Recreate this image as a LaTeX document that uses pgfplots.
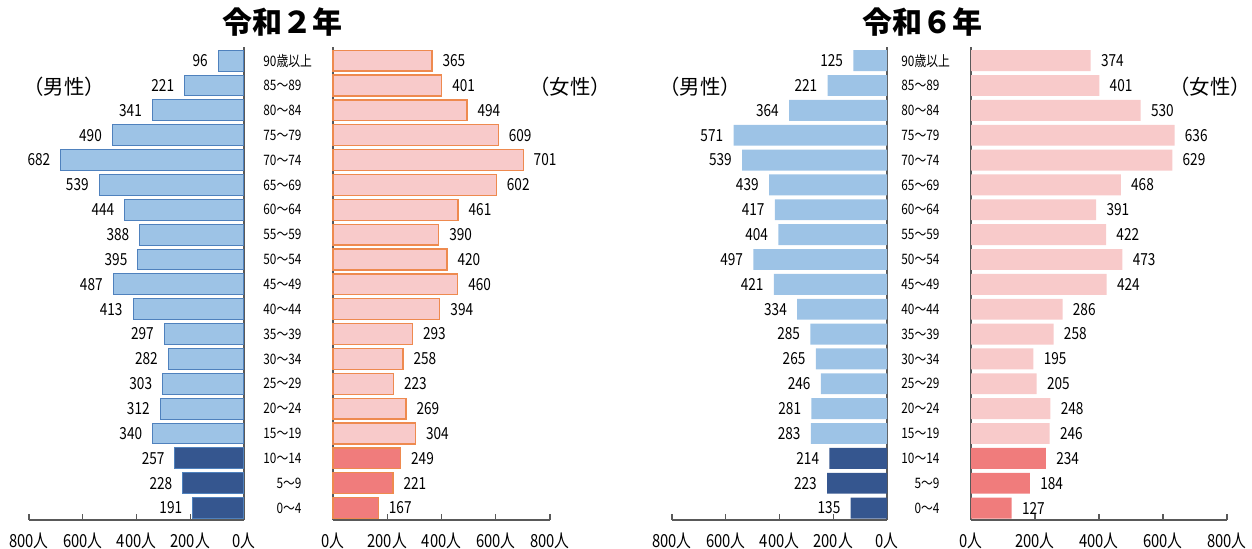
\documentclass[border=0pt]{standalone}
\usepackage{pgfplots}
\pgfplotsset{compat=1.18}
\usepackage{fontspec}
\usepackage{calc}
\setmainfont{Noto Sans CJK JP}[FakeStretch=0.82]
\newfontfamily\titlefont{Noto Sans CJK JP}

\definecolor{mlight}{HTML}{9DC3E6}
\definecolor{mlightedge}{HTML}{4F81BD}
\definecolor{mdark}{HTML}{35568F}
\definecolor{flight}{HTML}{F8CACA}
\definecolor{fedge}{HTML}{EE8A4F}
\definecolor{fdark}{HTML}{F07C7C}
\definecolor{axisgray}{HTML}{595959}

\newcommand{\catr}[1]{\makebox[\widthof{85〜89}][r]{#1}}
\newcommand{\catl}[1]{\makebox[\widthof{85〜89}][l]{#1}}

\tikzset{sidecap/.style={font=\titlefont\fontsize{10.2}{11}\selectfont, inner sep=0pt}}

\pgfplotsset{
  pyr/.style={
    scale only axis, height=236.5pt,
    xmin=0, xmax=800, ymin=-0.48, ymax=18.55,
    xbar, bar width=0.84, bar shift=0pt,
    axis x line*=bottom, axis y line*=middle,
    axis line style={-, draw=axisgray, line width=0.8pt},
    xtick={0,200,400,600,800},
    xticklabel={\pgfmathprintnumber{\tick}人},
    tick align=inside, major tick length=3pt,
    xtick style={draw=axisgray, line width=0.7pt},
    ytick=\empty,
    /pgf/number format/assume math mode=true,
    xticklabel style={font=\fontsize{9}{10}\selectfont, anchor=center, yshift=-10.2pt, inner sep=0pt},
    nodes near coords,
    nodes near coords style={font=\fontsize{8.3}{9}\selectfont, inner sep=0pt, text=black},
    clip=false,
  },
  male/.style={pyr, x dir=reverse,
    every node near coord/.append style={anchor=east, xshift=-5pt}},
  female/.style={pyr,
    every node near coord/.append style={anchor=west, xshift=5pt},
    ytick={0,...,18},
    yticklabels={\catr{0〜4},\catr{5〜9},\catr{10〜14},\catr{15〜19},\catr{20〜24},
      \catr{25〜29},\catr{30〜34},\catr{35〜39},\catr{40〜44},\catr{45〜49},
      \catr{50〜54},\catr{55〜59},\catr{60〜64},\catr{65〜69},\catr{70〜74},
      \catr{75〜79},\catr{80〜84},\catr{85〜89},\catl{90歳以上}},
    ytick style={draw=none},
    yticklabel style={font=\fontsize{7.2}{8}\selectfont, anchor=west, inner sep=0pt, xshift=-35pt}},
}

\begin{document}
\begin{tikzpicture}

% ---------------- 令和2年 ----------------
\begin{axis}[male, at={(14.5pt,14.5pt)}, anchor=south west, width=107.5pt]
  \addplot[fill=mlight, draw=mlightedge, line width=0.5pt] coordinates {
    (96,18) (221,17) (341,16) (490,15) (682,14) (539,13) (444,12) (388,11)
    (395,10) (487,9) (413,8) (297,7) (282,6) (303,5) (312,4) (340,3)};
  \addplot[fill=mdark, draw=mlightedge, line width=0.5pt] coordinates {
    (257,2) (228,1) (191,0)};
\end{axis}

\begin{axis}[female, at={(166.5pt,14.5pt)}, anchor=south west, width=108.5pt]
  \addplot[fill=flight, draw=fedge, line width=0.6pt] coordinates {
    (365,18) (401,17) (494,16) (609,15) (701,14) (602,13) (461,12) (390,11)
    (420,10) (460,9) (394,8) (293,7) (258,6) (223,5) (269,4) (304,3)};
  \addplot[fill=fdark, draw=fedge, line width=0.6pt] coordinates {
    (249,2) (221,1) (167,0)};
\end{axis}

% ---------------- 令和6年 ----------------
\begin{axis}[male, at={(336pt,14.5pt)}, anchor=south west, width=107.5pt]
  \addplot[fill=mlight, draw=none] coordinates {
    (125,18) (221,17) (364,16) (571,15) (539,14) (439,13) (417,12) (404,11)
    (497,10) (421,9) (334,8) (285,7) (265,6) (246,5) (281,4) (283,3)};
  \addplot[fill=mdark, draw=none] coordinates {
    (214,2) (223,1) (135,0)};
\end{axis}

\begin{axis}[female, at={(485.5pt,14.5pt)}, anchor=south west, width=128pt]
  \addplot[fill=flight, draw=none] coordinates {
    (374,18) (401,17) (530,16) (636,15) (629,14) (468,13) (391,12) (422,11)
    (473,10) (424,9) (286,8) (258,7) (195,6) (205,5) (248,4) (246,3)};
  \addplot[fill=fdark, draw=none] coordinates {
    (234,2) (184,1) (127,0)};
\end{axis}

% titles and side captions
\node[font=\titlefont\bfseries\fontsize{15}{16}\selectfont] at (141pt,263.5pt) {令和２年};
\node[font=\titlefont\bfseries\fontsize{15}{16}\selectfont] at (461pt,263.5pt) {令和６年};
\node[sidecap] at (32pt,231pt) {（男性）};
\node[sidecap] at (285pt,231pt) {（女性）};
\node[sidecap] at (350pt,231pt) {（男性）};
\node[sidecap] at (605pt,231pt) {（女性）};

\pgfresetboundingbox
\path[use as bounding box] (0,0) rectangle (626pt,274.5pt);
\end{tikzpicture}
\end{document}
